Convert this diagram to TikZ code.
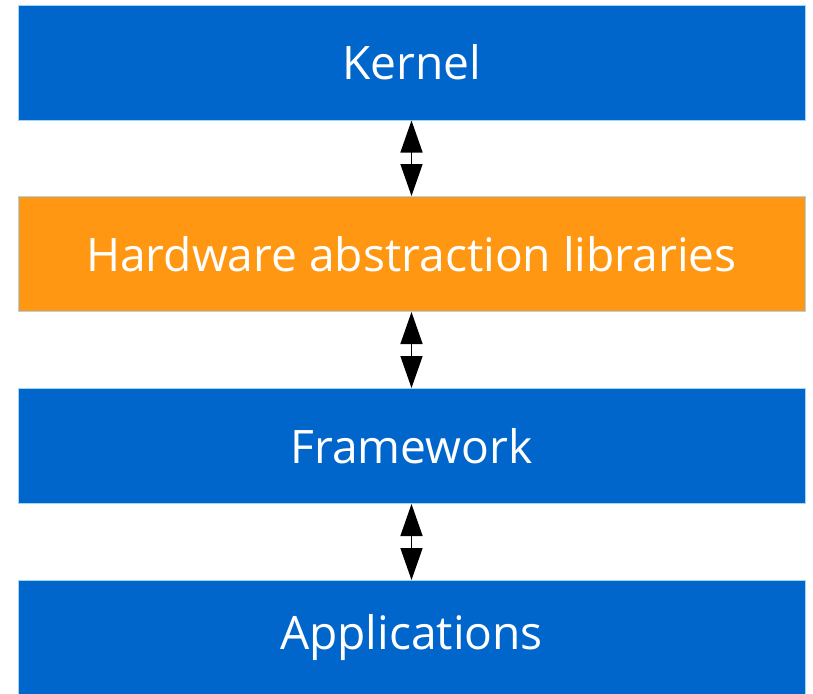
\documentclass[tikz,border=0pt]{standalone}
\usepackage{fontspec}
\setmainfont{Open Sans}
\usetikzlibrary{arrows.meta}
\definecolor{boxblue}{HTML}{0066CC}
\definecolor{boxorange}{HTML}{FF9713}
\definecolor{edgeblue}{HTML}{A3D5F7}
\begin{document}
\begin{tikzpicture}[x=0.75pt,y=-0.75pt,
  layer/.style={draw=edgeblue, line width=0.75pt, minimum width=590.25pt, minimum height=86.25pt,
    inner sep=0pt, text=white, font=\fontsize{34.6}{40}\selectfont, anchor=center},
  link/.style={line width=1.1pt, {Triangle[length=24pt,width=16.5pt]}-{Triangle[length=24pt,width=16.5pt]}}]
\useasboundingbox (0,0) rectangle (813,693);
\node[layer, fill=boxblue] (kernel) at (411.5,62.5) {Kernel};
\node[layer, fill=boxorange] (hal) at (411.5,254) {Hardware abstraction libraries};
\node[layer, fill=boxblue] (fw) at (411.5,446) {Framework};
\node[layer, fill=boxblue] (apps) at (411.5,638) {Applications};
\draw[link] (kernel.south) -- (hal.north);
\draw[link] (hal.south) -- (fw.north);
\draw[link] (fw.south) -- (apps.north);
\end{tikzpicture}
\end{document}
